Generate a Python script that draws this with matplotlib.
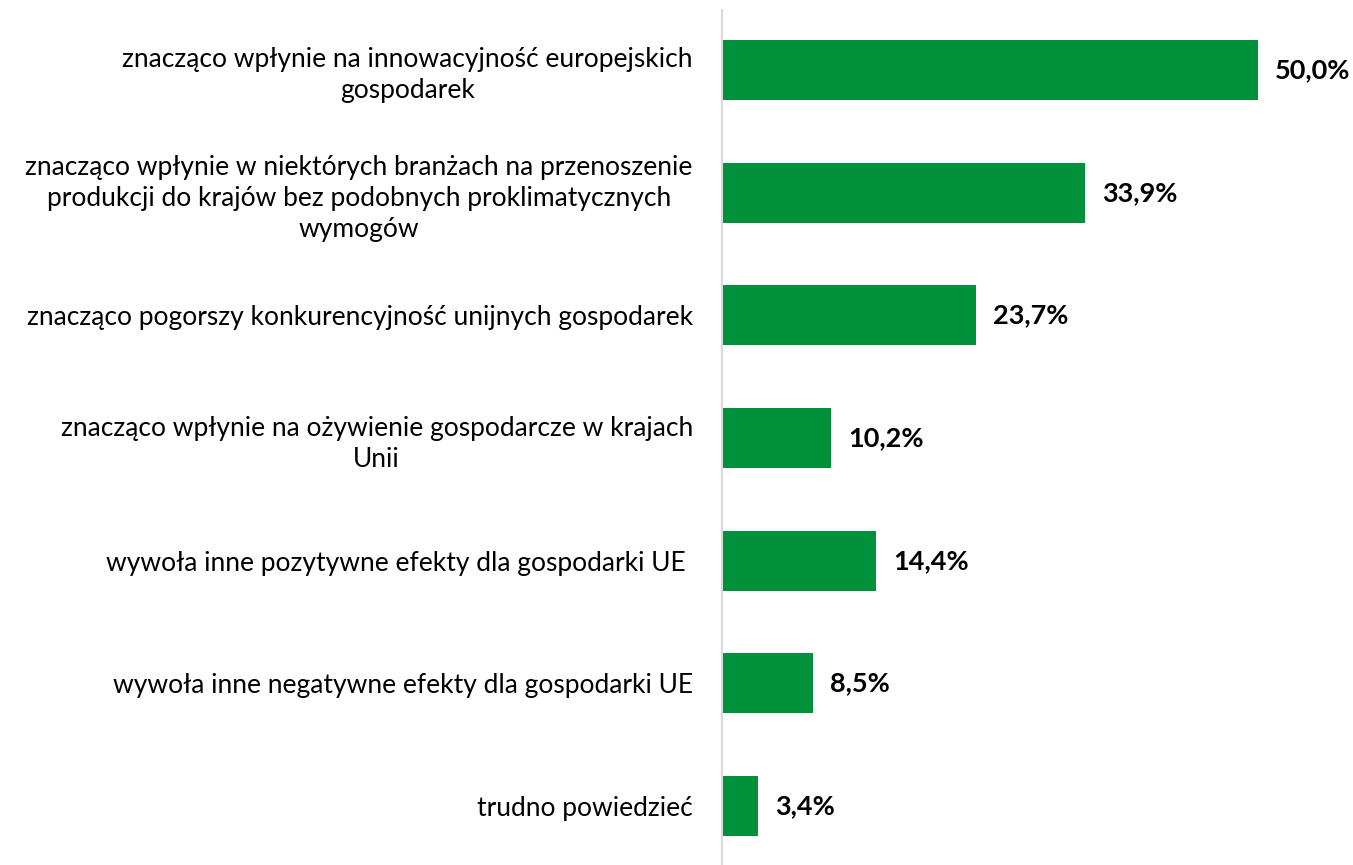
import matplotlib
matplotlib.use("Agg")
import matplotlib.pyplot as plt

# categories, top to bottom
labels = [
    "znacząco wpłynie na innowacyjność europejskich\ngospodarek",
    "znacząco wpłynie w niektórych branżach na przenoszenie\nprodukcji do krajów bez podobnych proklimatycznych\nwymogów",
    "znacząco pogorszy konkurencyjność unijnych gospodarek",
    "znacząco wpłynie na ożywienie gospodarcze w krajach\nUnii",
    "wywoła inne pozytywne efekty dla gospodarki UE ",
    "wywoła inne negatywne efekty dla gospodarki UE",
    "trudno powiedzieć",
]
values = [50.0, 33.9, 23.7, 10.2, 14.4, 8.5, 3.4]
value_text = ["50,0%", "33,9%", "23,7%", "10,2%", "14,4%", "8,5%", "3,4%"]

GREEN = "#00913A"
plt.rcParams['font.family'] = ['Lato', 'DejaVu Sans']

fig = plt.figure(figsize=(13.53, 8.65), dpi=100)
ax = fig.add_axes([722 / 1353, 0.0, 631 / 1353, 1 - 10 / 865])

pos = list(range(len(values)))
ax.barh(pos, values, height=0.49, color=GREEN)
ax.set_ylim(6.48, -0.489)
ax.set_xlim(0, 631 / 10.72)

for p, v, t in zip(pos, values, value_text):
    ax.annotate(t, (v, p), xytext=(12, 0), textcoords="offset points",
                ha="left", va="center", fontsize=19.5, fontweight="bold",
                color="black")

ax.set_yticks(pos)
ax.set_yticklabels(labels, fontsize=19, multialignment="center",
                   linespacing=1.3)
ax.tick_params(axis="y", length=0, pad=21)
ax.set_xticks([])

for s in ["top", "right", "bottom"]:
    ax.spines[s].set_visible(False)
ax.spines["left"].set_color("#D9D9D9")
ax.spines["left"].set_linewidth(1.5)

fig.savefig("out.png", dpi=100)
